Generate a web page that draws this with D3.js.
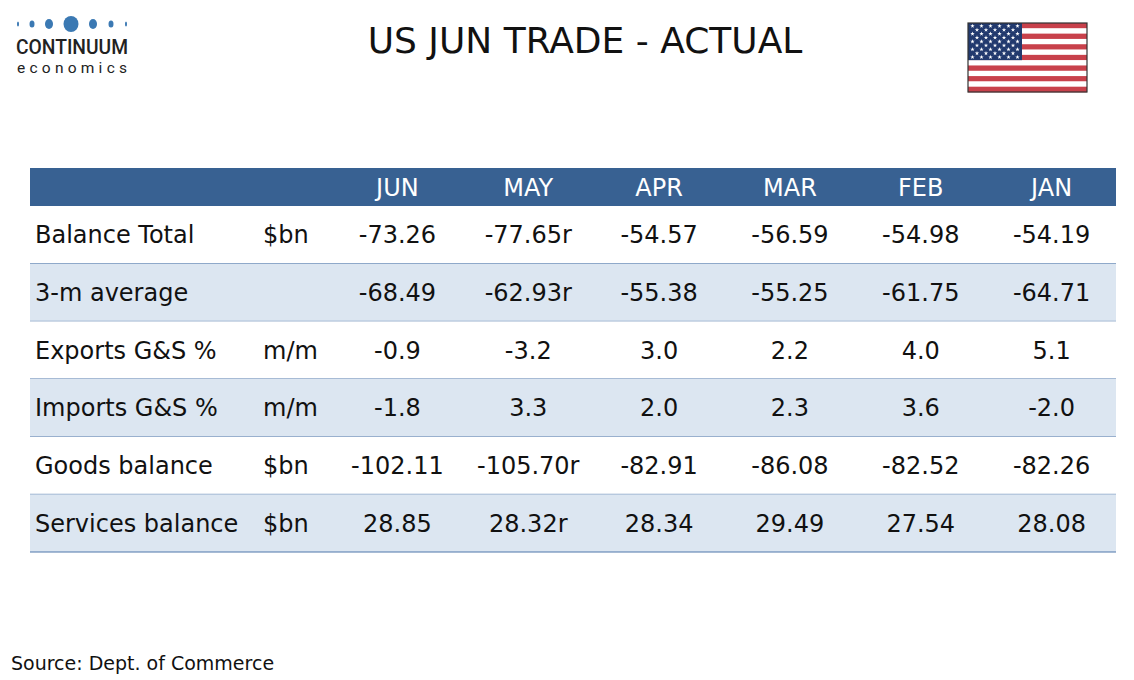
<!DOCTYPE html>
<html><head><meta charset="utf-8">
<script src="https://cdn.jsdelivr.net/npm/d3@7"></script>
<style>body{margin:0;background:#fff;}svg{display:block;font-family:"DejaVu Sans",Verdana,sans-serif;}</style>
</head><body>
<svg id="c" width="1134" height="680"></svg>
<script>
const title = "US JUN TRADE - ACTUAL";
const months = ["JUN","MAY","APR","MAR","FEB","JAN"];
const rowLabels = ["Balance Total","3-m average","Exports G&S %","Imports G&S %","Goods balance","Services balance"];
const units = ["$bn","","m/m","m/m","$bn","$bn"];
const decimals = [2,2,1,1,2,2];
const balanceTotal = [-73.26,-77.65,-54.57,-56.59,-54.98,-54.19];
const threeMonthAvg = [-68.49,-62.93,-55.38,-55.25,-61.75,-64.71];
const exportsMoM = [-0.9,-3.2,3.0,2.2,4.0,5.1];
const importsMoM = [-1.8,3.3,2.0,2.3,3.6,-2.0];
const goodsBalance = [-102.11,-105.70,-82.91,-86.08,-82.52,-82.26];
const servicesBalance = [28.85,28.32,28.34,29.49,27.54,28.08];
const revisedMonths = ["MAY"];
const revisedRows = ["Balance Total","3-m average","Goods balance","Services balance"];
const source = "Source: Dept. of Commerce";

const series = [balanceTotal,threeMonthAvg,exportsMoM,importsMoM,goodsBalance,servicesBalance];
const svg = d3.select("#c");
const FS = 24;

// Title
svg.append("text").attr("x",585).attr("y",53).attr("text-anchor","middle")
  .attr("font-size",36).attr("fill","#111").text(title);

// Logo
const logo = svg.append("g");
const dots = [[18,1,2.5],[32,2.5,3.5],[49,4,5],[71,7.5,8],[93,4,5],[111,2.5,3.5],[126,1,2.5]];
logo.selectAll("ellipse").data(dots).join("ellipse")
  .attr("cx",d=>d[0]).attr("cy",24).attr("rx",d=>d[1]).attr("ry",d=>d[2]).attr("fill","#3b79b3");
logo.append("text").attr("x",16).attr("y",54).attr("font-family","Roboto,sans-serif")
  .attr("font-weight",500).attr("font-size",20).attr("fill","#222")
  .attr("textLength",112).attr("lengthAdjust","spacingAndGlyphs").text("CONTINUUM");
logo.append("text").attr("x",17).attr("y",72.5).attr("font-family","Roboto,sans-serif")
  .attr("font-weight",400).attr("font-size",15.5).attr("fill","#222")
  .attr("textLength",110).attr("lengthAdjust","spacing").text("economics");

// Flag
const fx=968, fy=23, fw=119, fh=69;
const flag = svg.append("g");
const stripeY = d3.scaleBand().domain(d3.range(13)).range([fy,fy+fh]);
flag.selectAll("rect.s").data(d3.range(13)).join("rect").attr("class","s")
  .attr("x",fx).attr("y",d=>stripeY(d)).attr("width",fw).attr("height",stripeY.bandwidth()+0.3)
  .attr("fill",d=>d%2===0?"#c8414b":"#ffffff");
const cw=54, ch=stripeY(7)-fy;
flag.append("rect").attr("x",fx).attr("y",fy).attr("width",cw).attr("height",ch).attr("fill","#223a6e");
const stars=[];
for(let r=0;r<9;r++){const n=r%2===0?6:5;for(let c=0;c<n;c++){stars.push([fx+4.5+(r%2===0?c*9:4.5+c*9),fy+3+r*(ch-6)/8]);}}
const starPath = d3.symbol(d3.symbolStar,6);
flag.selectAll("path").data(stars).join("path").attr("d",starPath).attr("transform",d=>`translate(${d[0]},${d[1]})`).attr("fill","#fff");
flag.append("rect").attr("x",fx).attr("y",fy).attr("width",fw).attr("height",fh).attr("fill","none").attr("stroke","#333").attr("stroke-width",1.2);

// Table
const tx0=30, tx1=1116;
const colX = d3.scaleBand().domain(months).range([332,1117]);
const rowY = d3.scaleBand().domain(rowLabels).range([206,552]);
const hdrY0=168, hdrY1=206;
svg.append("rect").attr("x",tx0).attr("y",hdrY0).attr("width",tx1-tx0).attr("height",hdrY1-hdrY0).attr("fill","#386192");
svg.selectAll("text.hdr").data(months).join("text").attr("class","hdr")
  .attr("x",d=>colX(d)+colX.bandwidth()/2).attr("y",(hdrY0+hdrY1)/2).attr("dy","0.36em")
  .attr("text-anchor","middle").attr("font-size",FS).attr("fill","#fff").text(d=>d);

const rows = svg.selectAll("g.row").data(rowLabels.map((l,i)=>({label:l,unit:units[i],vals:series[i],dec:decimals[i],i})))
  .join("g").attr("class","row").attr("transform",d=>`translate(0,${rowY(d.label)})`);
rows.append("rect").attr("x",tx0).attr("width",tx1-tx0).attr("height",rowY.bandwidth())
  .attr("fill",d=>d.i%2===1?"#dce6f1":"#ffffff");
rows.append("line").attr("x1",tx0).attr("x2",tx1).attr("y1",rowY.bandwidth()).attr("y2",rowY.bandwidth())
  .attr("stroke","#4f76aa").attr("stroke-width",1);
const mid = rowY.bandwidth()/2;
rows.append("text").attr("x",35).attr("y",mid).attr("dy","0.36em").attr("font-size",FS).attr("fill","#111").text(d=>d.label);
rows.append("text").attr("x",263).attr("y",mid).attr("dy","0.36em").attr("font-size",FS).attr("fill","#111").text(d=>d.unit);
rows.each(function(d){
  d3.select(this).selectAll("text.v").data(months.map((m,j)=>({m,v:d.vals[j]})))
    .join("text").attr("class","v")
    .attr("x",e=>colX(e.m)+colX.bandwidth()/2).attr("y",mid).attr("dy","0.36em")
    .attr("text-anchor","middle").attr("font-size",FS).attr("fill","#111")
    .text(e=>d3.format(`.${d.dec}f`)(e.v).replace("−","-")+(revisedMonths.includes(e.m)&&revisedRows.includes(d.label)?"r":""));
});

svg.append("text").attr("x",11).attr("y",670).attr("font-size",19).attr("fill","#111").text(source);
</script>
</body></html>
